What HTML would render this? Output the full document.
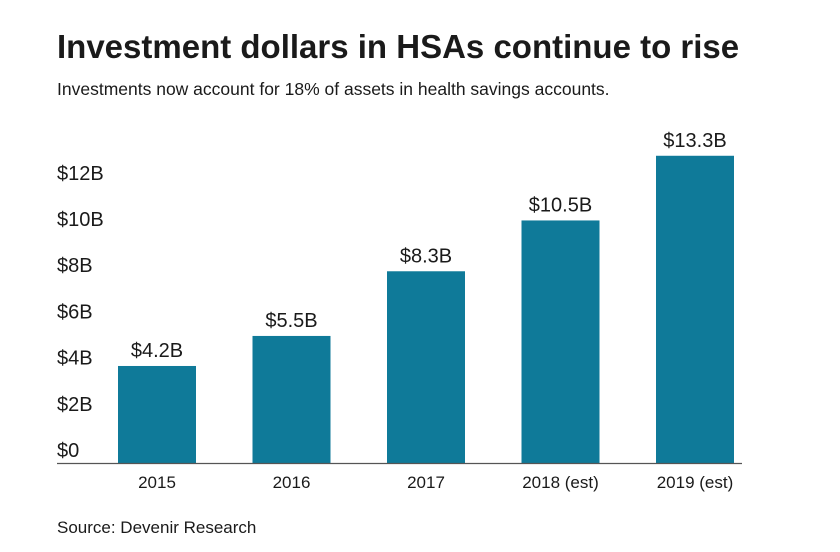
<!DOCTYPE html>
<html><head><meta charset="utf-8"><style>
body{margin:0;background:#fff;width:840px;height:547px;overflow:hidden;font-family:"Liberation Sans",sans-serif;color:#1a1a1a}
</style></head><body>
<svg width="840" height="547" xmlns="http://www.w3.org/2000/svg">
<text x="57" y="58" font-size="33" font-weight="bold" fill="#1a1a1a">Investment dollars in HSAs continue to rise</text>
<text x="57" y="95" font-size="17.5" fill="#1a1a1a">Investments now account for 18% of assets in health savings accounts.</text>
<g id="yaxis"></g><g id="bars"></g>
<line x1="57" y1="463.5" x2="742" y2="463.5" stroke="#555" stroke-width="1.3"/>
<text x="57" y="533" font-size="17" fill="#1a1a1a">Source: Devenir Research</text>
</svg>
<script>
const categories=["2015","2016","2017","2018 (est)","2019 (est)"];
const values=[4.2,5.5,8.3,10.5,13.3];
const valueLabels=["$4.2B","$5.5B","$8.3B","$10.5B","$13.3B"];
const yTicks=[0,2,4,6,8,10,12];
const yTickLabels=["$0","$2B","$4B","$6B","$8B","$10B","$12B"];
const NS="http://www.w3.org/2000/svg";
const base=463,pxPer=23.1;
const y=v=>base-v*pxPer;
const x=i=>118+i*134.5;
const bw=78;
function mk(tag,attrs,txt){const e=document.createElementNS(NS,tag);for(const k in attrs)e.setAttribute(k,attrs[k]);if(txt!==undefined)e.textContent=txt;return e;}
const ya=document.getElementById('yaxis');
yTicks.forEach((t,i)=>{
 const el=mk('text',{x:57,y:y(t)-6,'font-size':20,fill:'#1a1a1a'},yTickLabels[i]);
 
 
 ya.appendChild(el);
});
const bg=document.getElementById('bars');
values.forEach((v,i)=>{
 const r=mk('rect',{x:x(i),y:y(v),width:bw,height:base-y(v),fill:'#0f7a99'});
 
 
 bg.appendChild(r);
 const l=mk('text',{x:x(i)+bw/2,y:y(v)-9,'font-size':20,fill:'#1a1a1a','text-anchor':'middle'},valueLabels[i]);
 
 
 bg.appendChild(l);
 const c=mk('text',{x:x(i)+bw/2,y:488,'font-size':17,fill:'#1a1a1a','text-anchor':'middle'},categories[i]);
 
 
 bg.appendChild(c);
});
</script>
</body></html>
